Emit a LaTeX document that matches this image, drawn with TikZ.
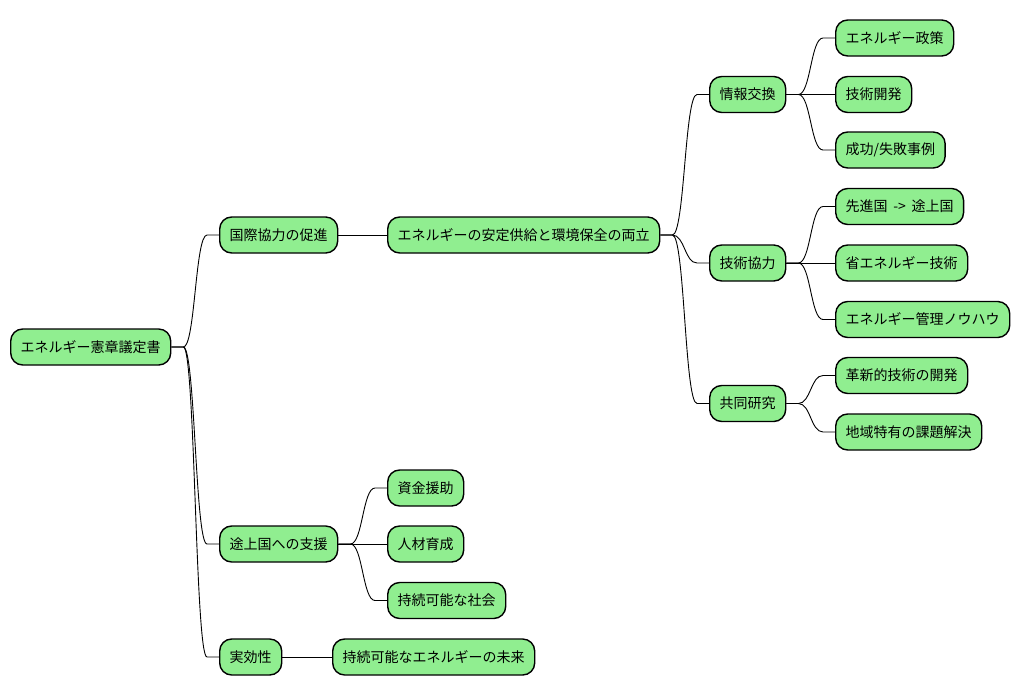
\documentclass[tikz,border=0pt]{standalone}
\usepackage{fontspec}
\setmainfont{Noto Sans CJK JP}
\usetikzlibrary{calc}
\tikzset{
  mm/.style={draw=black, line width=1.4pt, fill=mmgreen, rounded corners=12pt,
    anchor=west, minimum height=36pt, inner xsep=10pt, inner ysep=0pt,
    font=\fontsize{14}{16}\selectfont, text=black},
  conn/.style={draw=black, line width=0.9pt}
}
\definecolor{mmgreen}{HTML}{90EE90}
\newcommand\mmlink[2]{%
  \path (#1.east) ++(12,0) coordinate (s);
  \path (#2.west) ++(-12,0) coordinate (t);
  \coordinate (m) at ($(s)!0.5!(t)$);
  \draw[conn] (#1.east) -- (s) .. controls (m |- s) and (m |- t) .. (t) -- (#2.west);
}
\begin{document}
\begin{tikzpicture}[x=1pt,y=-1pt]
\useasboundingbox (0,0) rectangle (1020,696);
\node[mm] (root) at (10,347) {エネルギー憲章議定書};
\node[mm] (a) at (219,235) {国際協力の促進};
\node[mm] (a1) at (387,235) {エネルギーの安定供給と環境保全の両立};
\node[mm] (b1) at (709,94.5) {情報交換};
\node[mm] (b11) at (835,38) {エネルギー政策};
\node[mm] (b12) at (835,94.5) {技術開発};
\node[mm] (b13) at (835,150) {成功/失敗事例};
\node[mm] (b2) at (709,263) {技術協力};
\node[mm] (b21) at (835,206.5) {先進国 \hspace{2.5pt}->\hspace{2.5pt} 途上国};
\node[mm] (b22) at (835,263) {省エネルギー技術};
\node[mm] (b23) at (835,319.5) {エネルギー管理ノウハウ};
\node[mm] (b3) at (709,403.5) {共同研究};
\node[mm] (b31) at (835,375.5) {革新的技術の開発};
\node[mm] (b32) at (835,432) {地域特有の課題解決};
\node[mm] (c) at (219,544) {途上国への支援};
\node[mm] (c1) at (387,488) {資金援助};
\node[mm] (c2) at (387,544) {人材育成};
\node[mm] (c3) at (387,600.5) {持続可能な社会};
\node[mm] (d) at (219,657) {実効性};
\node[mm] (d1) at (332,657) {持続可能なエネルギーの未来};
\mmlink{root}{a}
\mmlink{root}{c}
\mmlink{root}{d}
\draw[conn] (a.east) -- (a1.west);
\mmlink{a1}{b1}
\mmlink{a1}{b2}
\mmlink{a1}{b3}
\mmlink{b1}{b11}
\draw[conn] (b1.east) -- (b12.west);
\mmlink{b1}{b13}
\mmlink{b2}{b21}
\draw[conn] (b2.east) -- (b22.west);
\mmlink{b2}{b23}
\mmlink{b3}{b31}
\mmlink{b3}{b32}
\mmlink{c}{c1}
\draw[conn] (c.east) -- (c2.west);
\mmlink{c}{c3}
\draw[conn] (d.east) -- (d1.west);
\end{tikzpicture}
\end{document}
